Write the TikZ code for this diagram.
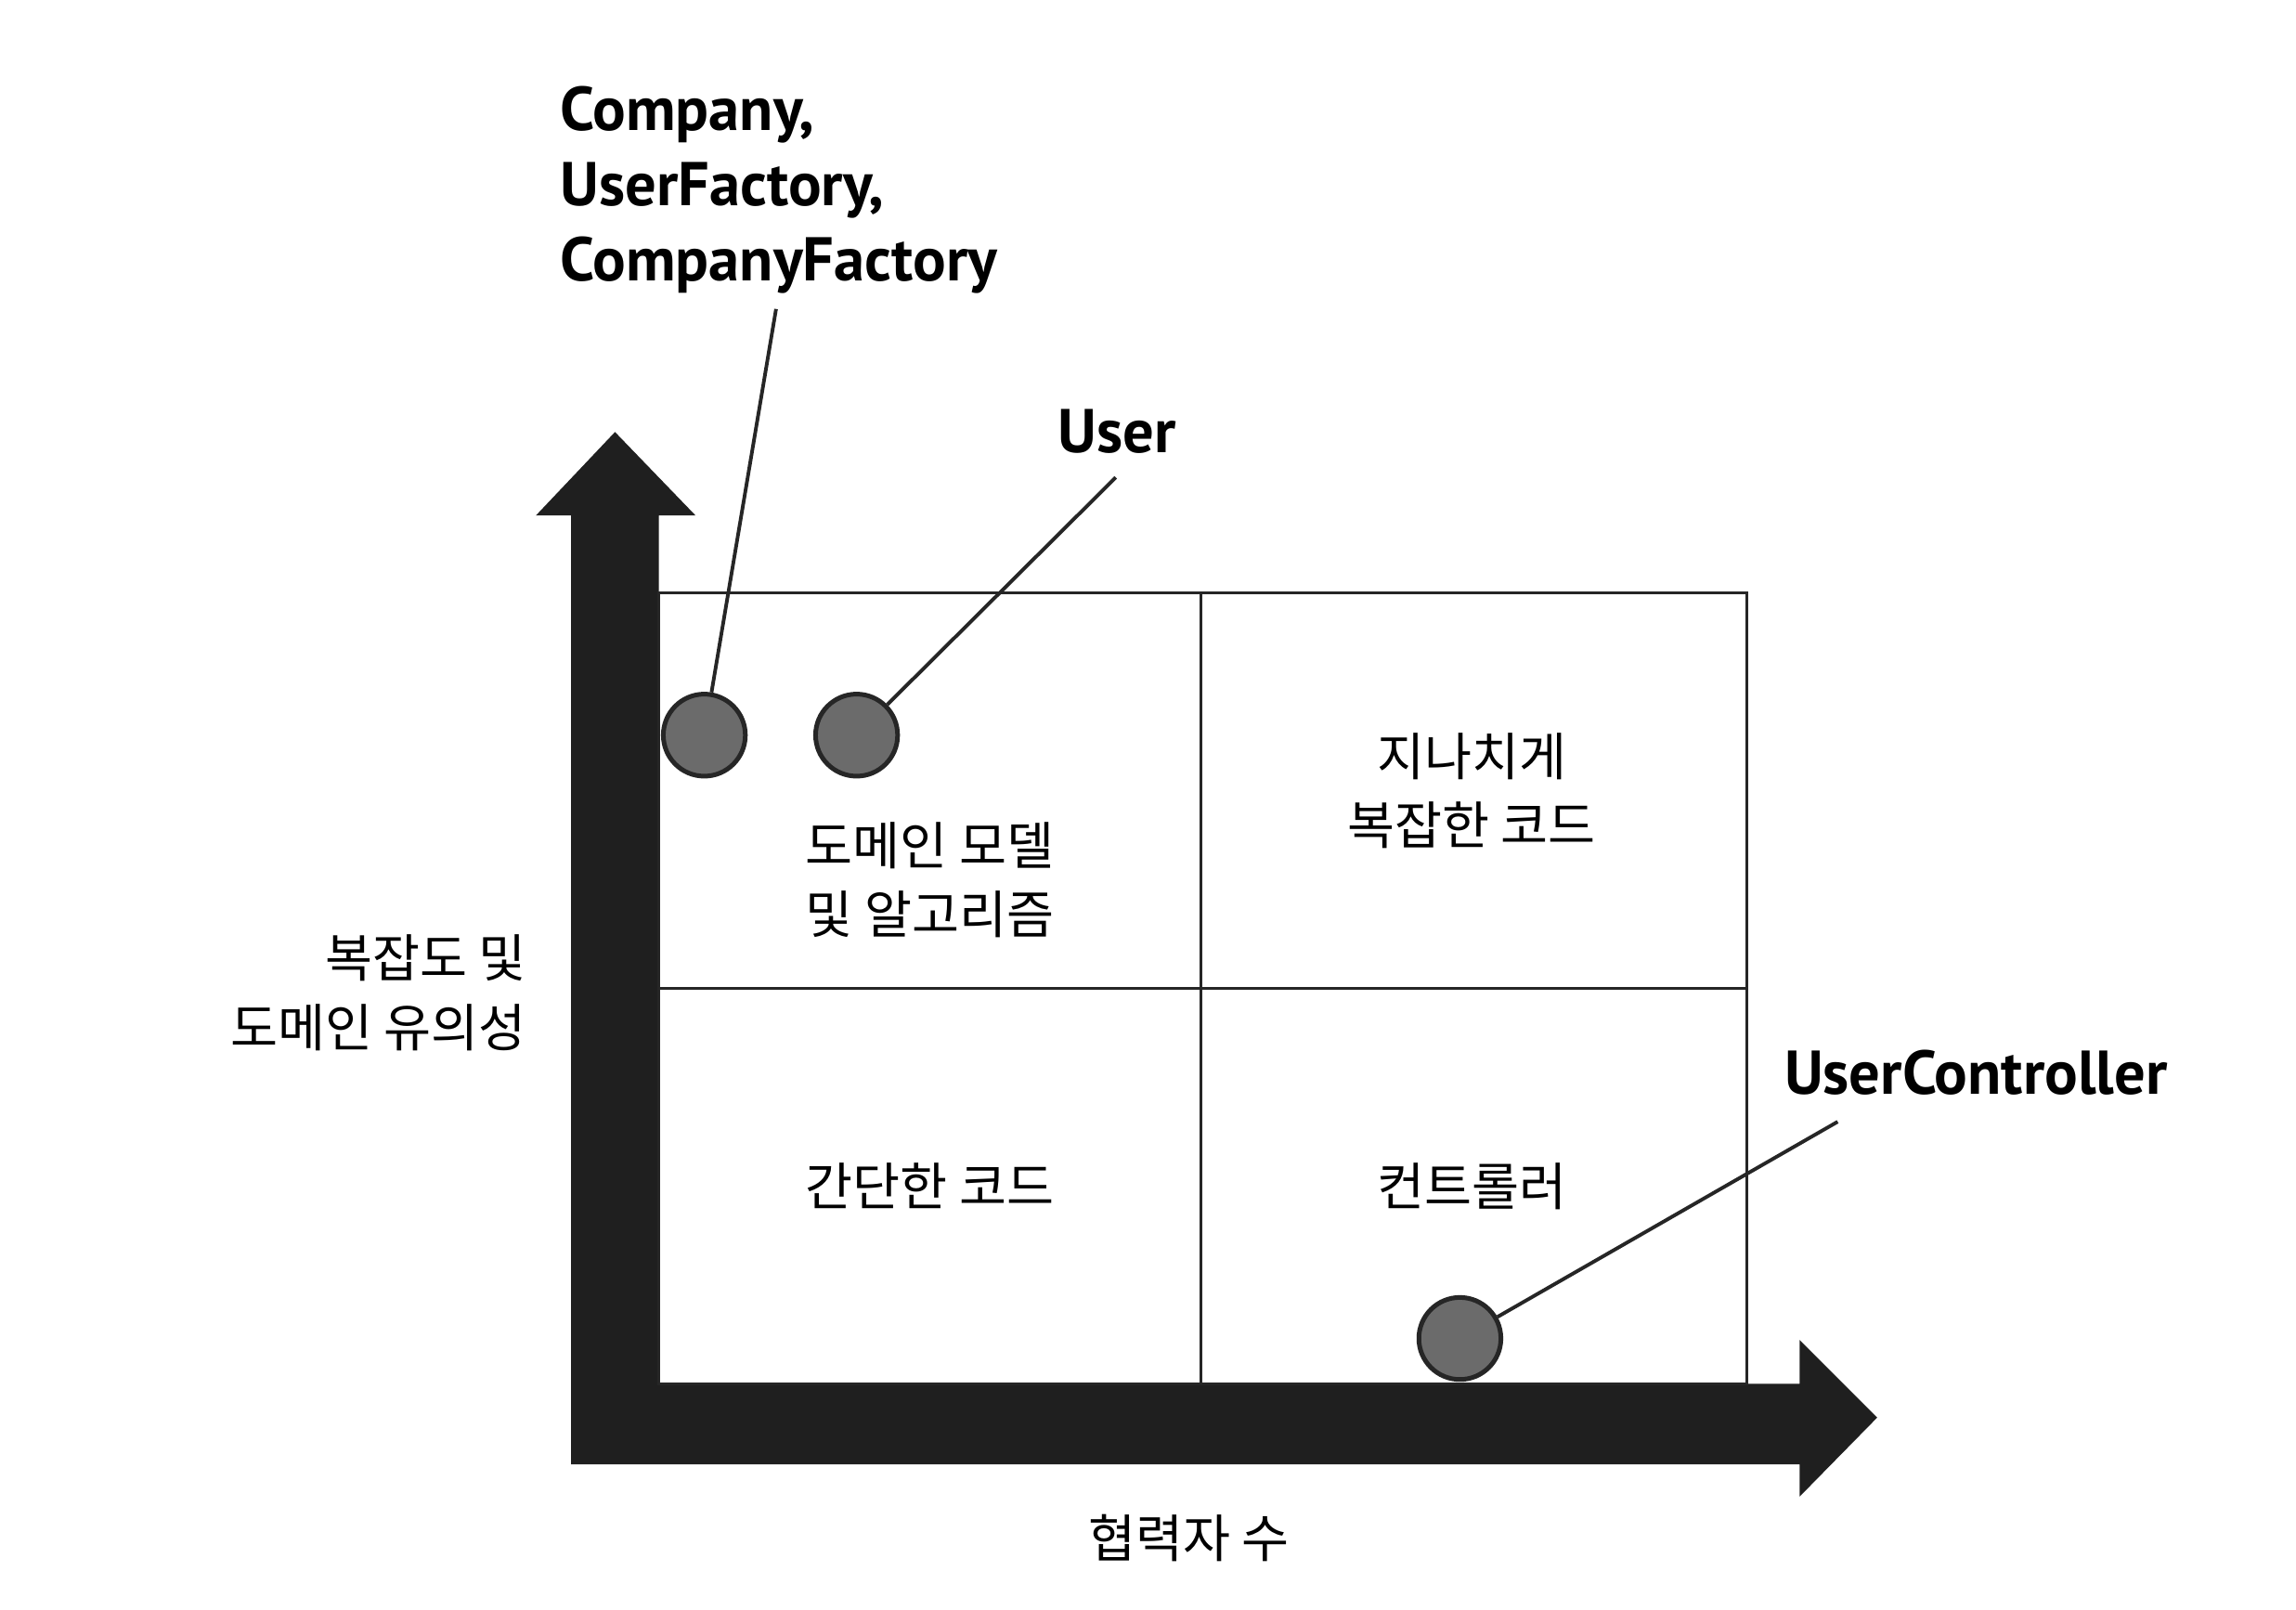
\documentclass[tikz,border=0pt]{standalone}
\usepackage{fontspec}
\newfontfamily\kr{Noto Sans CJK KR}
\newfontfamily\lbl{PT Sans}
\begin{document}
\begin{tikzpicture}[x=0.01cm,y=-0.01cm,
  axisfill/.style={fill=black!88},
  gridline/.style={draw=black!85,line width=0.6pt},
  dot/.style={circle,draw=black!85,fill=black!58,line width=0.9pt,minimum size=0.56cm,inner sep=0pt},
  lead/.style={draw=black!85,line width=0.7pt},
  blabel/.style={font=\lbl\bfseries\fontsize{12}{14.6}\selectfont,inner sep=0pt,align=left},
  klabel/.style={font=\kr\fontsize{10}{13.4}\selectfont,inner sep=0pt,align=center}]
\useasboundingbox[fill=white] (0,0) rectangle (1568,1099);
% axes
\fill[axisfill] (390,1000) -- (390,352) -- (366,352) -- (420,295) -- (475,352) -- (450,352)
  -- (450,945) -- (1229,945) -- (1229,915) -- (1282,968) -- (1229,1022) -- (1229,1000) -- cycle;
% grid
\draw[gridline] (450,405) rectangle (1193,945);
\draw[gridline] (820,405) -- (820,945);
\draw[gridline] (450,675) -- (1193,675);
% quadrant texts
\node[klabel] (q1) at (635,601) {도메인 모델\\및 알고리즘};
\node[klabel] (q2) at (1005,540) {지나치게\\복잡한 코드};
\node[klabel] (q3) at (635,810) {간단한 코드};
\node[klabel] (q4) at (1005,810) {컨트롤러};
% axis labels
\node[klabel,align=right,anchor=east] (ya) at (360,678) {복잡도 및\\도메인 유의성};
\node[klabel] (xa) at (812,1050) {협력자 수};
% dots
\node[dot] (c1) at (481,502) {};
\node[dot] (c2) at (585,502) {};
\node[dot] (c3) at (997,914) {};
% labels
\node[blabel,anchor=north west] (l1) at (382,58) {Company,\\UserFactory,\\CompanyFactory};
\node[blabel,anchor=base west] (l2) at (722,309) {User};
\node[blabel,anchor=base west] (l3) at (1218,747) {UserController};
\coordinate (s1) at (530,211);
\coordinate (s2) at (762,326);
\coordinate (s3) at (1255,766);
\draw[lead] (s1) -- (c1);
\draw[lead] (s2) -- (c2);
\draw[lead] (s3) -- (c3);
\end{tikzpicture}
\end{document}
